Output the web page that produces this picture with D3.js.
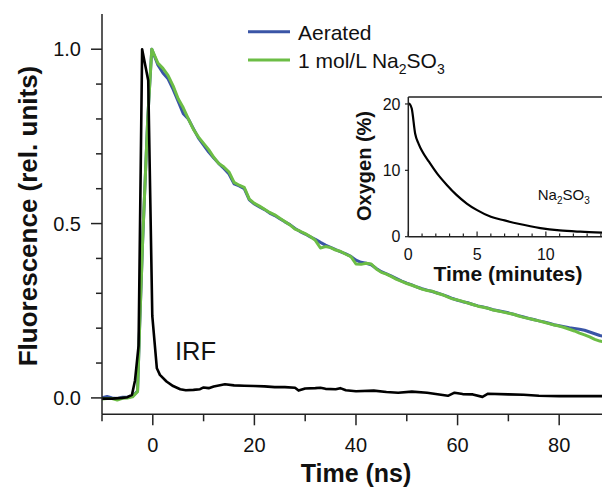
<!DOCTYPE html>
<head>
    <meta charset="utf-8">
    <title>Fluorescence decay</title>
    <style>
      body { margin: 0; background: #fff; }
      text { font-family: "Liberation Sans", Arial, sans-serif; fill: #111; }
    </style>
</head>

<script src="https://d3js.org/d3.v7.min.js"></script>

<div id="my_dataviz"></div>

<script>

    // ---- data ----
    // main panel: time in ns
    var riseTime = [-10, -9, -8, -7, -6, -5, -4, -3, -2.6, -2, -1, -0.2];
    var riseAerated = [0.0, 0.004, 0.0, -0.002, 0.002, 0.002, 0.005, 0.02, 0.2, 0.45, 0.8, 1.0];
    var riseSulfite = [-0.003, -0.002, -0.002, -0.006, -0.001, 0.0, 0.003, 0.018, 0.2, 0.45, 0.8, 1.0];

    // decay from 1 ns to 89 ns, 1 ns apart
    var decayAerated = [
      0.955, 0.932, 0.915, 0.885, 0.850, 0.815, 0.800, 0.772, 0.745, 0.725,
      0.705, 0.688, 0.672, 0.658, 0.642, 0.614, 0.608, 0.600, 0.568, 0.556,
      0.548, 0.540, 0.530, 0.523, 0.514, 0.505, 0.497, 0.486, 0.477, 0.470,
      0.462, 0.455, 0.446, 0.438, 0.432, 0.425, 0.419, 0.413, 0.406, 0.395,
      0.389, 0.386, 0.382, 0.371, 0.362, 0.356, 0.349, 0.342, 0.335, 0.329,
      0.324, 0.318, 0.313, 0.309, 0.305, 0.301, 0.296, 0.291, 0.285, 0.280,
      0.276, 0.273, 0.268, 0.264, 0.261, 0.257, 0.253, 0.250, 0.247, 0.244,
      0.240, 0.236, 0.232, 0.228, 0.225, 0.221, 0.218, 0.214, 0.210, 0.207,
      0.204, 0.201, 0.199, 0.197, 0.194, 0.189, 0.184, 0.179, 0.176
    ];
    var decaySulfite = [
      0.960, 0.945, 0.925, 0.895, 0.858, 0.832, 0.800, 0.770, 0.748, 0.730,
      0.712, 0.690, 0.672, 0.662, 0.648, 0.618, 0.610, 0.604, 0.570, 0.558,
      0.550, 0.541, 0.532, 0.525, 0.515, 0.506, 0.496, 0.484, 0.478, 0.471,
      0.463, 0.452, 0.430, 0.434, 0.431, 0.424, 0.420, 0.412, 0.405, 0.384,
      0.383, 0.386, 0.384, 0.370, 0.360, 0.355, 0.348, 0.340, 0.334, 0.328,
      0.323, 0.318, 0.312, 0.308, 0.306, 0.300, 0.296, 0.290, 0.284, 0.281,
      0.277, 0.272, 0.268, 0.263, 0.260, 0.257, 0.252, 0.249, 0.246, 0.243,
      0.240, 0.235, 0.231, 0.228, 0.224, 0.221, 0.217, 0.213, 0.209, 0.206,
      0.202, 0.197, 0.192, 0.186, 0.181, 0.175, 0.168, 0.163, 0.160
    ];

    var irfTime = [-10, -8, -6, -5, -4.1, -3.5, -2.8, -2.1, -0.9, -0.1, 0.8, 1.4, 2.7, 4, 5.4, 6.5, 8, 9.3,
                   10, 11, 12, 14.2, 16, 18, 20, 22, 24, 26, 28, 28.7, 30, 32, 33, 34, 36, 36.9, 38,
                   40, 43.5, 46, 48.3, 51, 54, 58.1, 59.4, 61, 63, 64.9, 66, 70, 73, 76, 80, 84, 89];
    var irfValue = [-0.002, -0.002, 0.0, 0.002, 0.009, 0.05, 0.15, 1.0, 0.91, 0.235, 0.085, 0.066, 0.047, 0.034, 0.025, 0.022, 0.023, 0.025,
                    0.03, 0.028, 0.033, 0.039, 0.036, 0.035, 0.034, 0.033, 0.031, 0.031, 0.029, 0.021, 0.027, 0.028, 0.029, 0.026, 0.025, 0.028, 0.022,
                    0.019, 0.021, 0.017, 0.015, 0.018, 0.015, 0.006, 0.015, 0.011, 0.01, 0.003, 0.012, 0.01, 0.009, 0.006, 0.005, 0.005, 0.005];

    var xTicks = [-10, 0, 10, 20, 30, 40, 50, 60, 70, 80];
    var xLabels = [0, 20, 40, 60, 80];
    var yTicks = [0, 0.1, 0.2, 0.3, 0.4, 0.5, 0.6, 0.7, 0.8, 0.9, 1.0];
    var yLabels = [0, 0.5, 1.0];

    // inset: oxygen level vs time in minutes
    var o2Time = [0, 0.1, 0.25, 0.5, 0.75, 1.0, 1.5, 2.1, 2.8, 3.5, 4.25, 5, 6, 7, 8, 9.6, 11, 12.5, 14.2];
    var o2Value = [20.1, 20.0, 19.3, 15.5, 14.0, 12.9, 11.3, 9.5, 7.8, 6.3, 5.0, 4.0, 3.0, 2.45, 1.95, 1.3, 0.95, 0.75, 0.6];
    var insetXTicks = [0, 1, 2, 3, 4, 5, 6, 7, 8, 9, 10, 11, 12, 13, 14];
    var insetXLabels = [0, 5, 10];
    var insetYLabels = [0, 10, 20];

    var blue = "#3a55a6", green = "#6cbd45";

    // ---- build series ----
    var aerated = [], sulfite = [], irf = [], o2 = [];
    riseTime.forEach(function (t, i) {
      aerated.push([t, riseAerated[i]]);
      sulfite.push([t, riseSulfite[i]]);
    });
    decayAerated.forEach(function (v, i) { aerated.push([i + 1, v]); });
    decaySulfite.forEach(function (v, i) { sulfite.push([i + 1, v]); });
    irfTime.forEach(function (t, i) { irf.push([t, irfValue[i]]); });
    o2Time.forEach(function (t, i) { o2.push([t, o2Value[i]]); });

    var W = 602, H = 489;
    var svg = d3.select("#my_dataviz")
      .append("svg")
      .attr("width", W)
      .attr("height", H);

    // main scales
    var x = d3.scaleLinear().domain([-10, 88.43]).range([102, 602]);
    var y = d3.scaleLinear().domain([-0.047, 1.101]).range([414.3, 14]);

    svg.append("clipPath").attr("id", "clip")
      .append("rect").attr("x", 102).attr("y", 0).attr("width", 500).attr("height", 414);

    var line = d3.line()
      .x(function (d) { return x(d[0]); })
      .y(function (d) { return y(d[1]); });

    var plot = svg.append("g").attr("clip-path", "url(#clip)");
    plot.append("path").datum(aerated)
      .attr("d", line).attr("fill", "none").attr("stroke", blue).attr("stroke-width", 3)
      .attr("stroke-linejoin", "round");
    plot.append("path").datum(sulfite)
      .attr("d", line).attr("fill", "none").attr("stroke", green).attr("stroke-width", 3)
      .attr("stroke-linejoin", "round");
    plot.append("path").datum(irf)
      .attr("d", line).attr("fill", "none").attr("stroke", "#000").attr("stroke-width", 2.6)
      .attr("stroke-linejoin", "round");

    // x axis
    var gx = svg.append("g").attr("transform", "translate(0,414.3)");
    gx.append("line").attr("x1", 102).attr("x2", 602).attr("stroke", "#222").attr("stroke-width", 1.5);
    gx.selectAll(".xt").data(xTicks).enter().append("line")
      .attr("x1", function (d) { return x(d); }).attr("x2", function (d) { return x(d); })
      .attr("y1", 0).attr("y2", function (d) { return d % 20 === 0 ? 11 : 7; })
      .attr("stroke", "#222").attr("stroke-width", 1.5);
    gx.selectAll(".xl").data(xLabels).enter().append("text")
      .attr("x", function (d) { return x(d); }).attr("y", 37.5)
      .attr("text-anchor", "middle").style("font-size", "20px")
      .text(function (d) { return d; });

    // y axis
    var gy = svg.append("g").attr("transform", "translate(102,0)");
    gy.append("line").attr("y1", 14).attr("y2", 414.3).attr("stroke", "#222").attr("stroke-width", 1.5);
    gy.selectAll(".yt").data(yTicks).enter().append("line")
      .attr("y1", function (d) { return y(d); }).attr("y2", function (d) { return y(d); })
      .attr("x1", function (d) { return Math.round(d * 10) % 5 === 0 ? -11 : -6; }).attr("x2", 0)
      .attr("stroke", "#222").attr("stroke-width", 1.5);
    gy.selectAll(".yl").data(yLabels).enter().append("text")
      .attr("x", -21).attr("y", function (d) { return y(d); })
      .attr("dy", "0.36em").attr("text-anchor", "end").style("font-size", "20px")
      .text(function (d) { return d3.format(".1f")(d); });

    // axis titles
    svg.append("text")
      .attr("x", 356).attr("y", 482)
      .attr("text-anchor", "middle").style("font-size", "25px").style("font-weight", "bold")
      .text("Time (ns)");
    svg.append("text")
      .attr("transform", "translate(37,216) rotate(-90)")
      .attr("text-anchor", "middle").style("font-size", "26px").style("font-weight", "bold")
      .text("Fluorescence (rel. units)");

    svg.append("text")
      .attr("x", 175).attr("y", 360)
      .style("font-size", "25.5px")
      .text("IRF");

    // legend
    var legend = [{ c: blue, y: 31.7, label: "Aerated" }, { c: green, y: 60, label: "1 mol/L Na" }];
    legend.forEach(function (l, i) {
      svg.append("line").attr("x1", 248).attr("x2", 290).attr("y1", l.y).attr("y2", l.y)
        .attr("stroke", l.c).attr("stroke-width", 3);
      var t = svg.append("text").attr("x", 298).attr("y", l.y + 8.3).style("font-size", "21px");
      t.append("tspan").text(l.label);
      if (i === 1) {
        t.append("tspan").attr("dy", 6).style("font-size", "14px").text("2");
        t.append("tspan").attr("dy", -6).text("SO");
        t.append("tspan").attr("dy", 6).style("font-size", "14px").text("3");
      }
    });

    // ---- inset ----
    var ix = d3.scaleLinear().domain([0, 14.08]).range([408.3, 602]);
    var iy = d3.scaleLinear().domain([0, 21.05]).range([236.7, 97]);

    var inset = svg.append("g");
    inset.append("rect").attr("x", 408.3).attr("y", 97).attr("width", 194).attr("height", 139.7)
      .attr("fill", "#fff");
    inset.append("path").datum(o2)
      .attr("d", d3.line().curve(d3.curveMonotoneX)
        .x(function (d) { return ix(d[0]); })
        .y(function (d) { return iy(d[1]); }))
      .attr("fill", "none").attr("stroke", "#000").attr("stroke-width", 2.2);

    inset.append("line").attr("x1", 408.3).attr("x2", 602).attr("y1", 97).attr("y2", 97)
      .attr("stroke", "#222").attr("stroke-width", 1.3);
    inset.append("line").attr("x1", 408.3).attr("x2", 408.3).attr("y1", 97).attr("y2", 236.7)
      .attr("stroke", "#222").attr("stroke-width", 1.5);
    inset.append("line").attr("x1", 408.3).attr("x2", 602).attr("y1", 236.7).attr("y2", 236.7)
      .attr("stroke", "#222").attr("stroke-width", 1.5);

    inset.selectAll(".ixt").data(insetXTicks).enter().append("line")
      .attr("x1", function (d) { return ix(d); }).attr("x2", function (d) { return ix(d); })
      .attr("y1", 236.7).attr("y2", function (d) { return d % 5 === 0 ? 231.5 : 233.5; })
      .attr("stroke", "#222").attr("stroke-width", 1.2);
    inset.selectAll(".iyt").data(insetYLabels).enter().append("line")
      .attr("y1", function (d) { return iy(d); }).attr("y2", function (d) { return iy(d); })
      .attr("x1", 405).attr("x2", 408.3)
      .attr("stroke", "#222").attr("stroke-width", 1.2);

    inset.selectAll(".ixl").data(insetXLabels).enter().append("text")
      .attr("x", function (d) { return ix(d); }).attr("y", 260)
      .attr("text-anchor", "middle").style("font-size", "16px")
      .text(function (d) { return d; });
    inset.selectAll(".iyl").data(insetYLabels).enter().append("text")
      .attr("x", 400.5).attr("y", function (d) { return iy(d); })
      .attr("dy", "0.36em").attr("text-anchor", "end").style("font-size", "16px")
      .text(function (d) { return d; });

    inset.append("text")
      .attr("x", 508).attr("y", 281)
      .attr("text-anchor", "middle").style("font-size", "21px").style("font-weight", "bold")
      .text("Time (minutes)");
    inset.append("text")
      .attr("transform", "translate(371,166) rotate(-90)")
      .attr("text-anchor", "middle").style("font-size", "20px").style("font-weight", "bold")
      .text("Oxygen (%)");

    var na = inset.append("text").attr("x", 537.7).attr("y", 200).style("font-size", "15px");
    na.append("tspan").text("Na");
    na.append("tspan").attr("dy", 4).style("font-size", "10px").text("2");
    na.append("tspan").attr("dy", -4).text("SO");
    na.append("tspan").attr("dy", 4).style("font-size", "10px").text("3");

</script>
